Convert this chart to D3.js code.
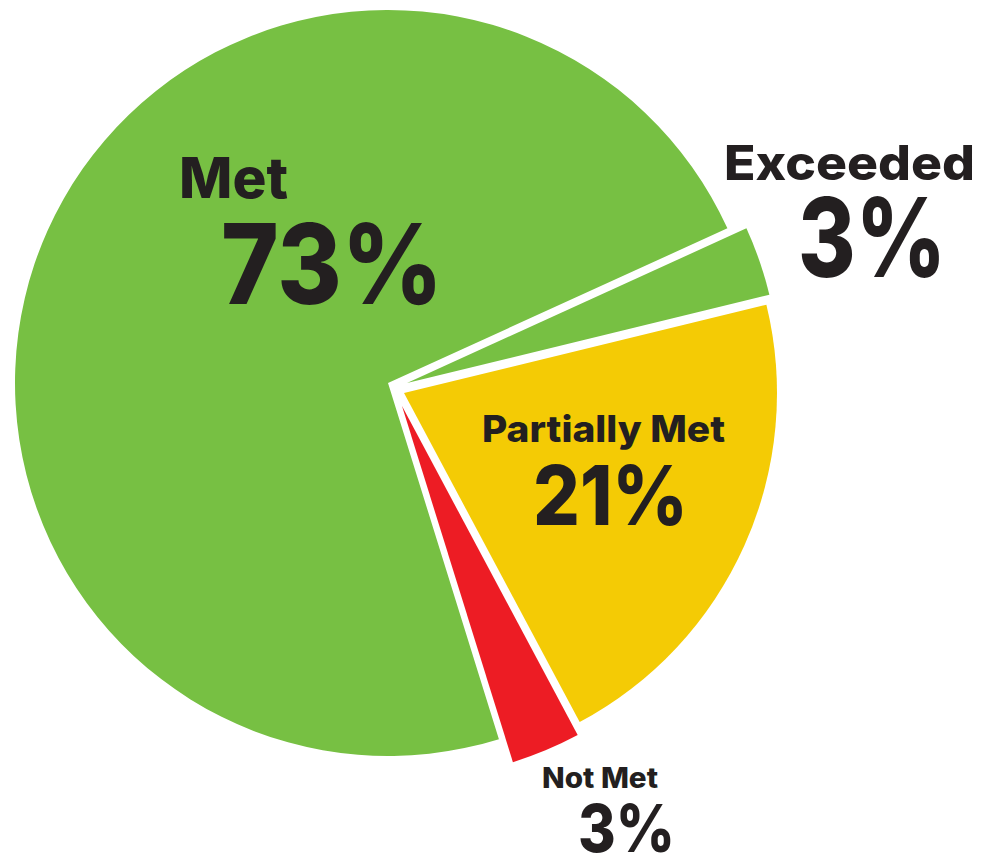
<!DOCTYPE html>
<html>
<head>
<meta charset="utf-8">
<script src="https://cdn.jsdelivr.net/npm/d3@7"></script>
<style>
  html, body { margin: 0; padding: 0; background: #ffffff; }
  svg { display: block; }
</style>
</head>
<body>
<svg id="chart" width="982" height="857"></svg>
<script>
// ---------------- data ----------------
const categories  = ["Exceeded", "Partially Met", "Not Met", "Met"];
const values      = [3, 21, 3, 73];
const valueLabels = ["3%", "21%", "3%", "73%"];

// ---------------- styles / layout ----------------
const sliceColors = ["#77C043", "#F4CB05", "#ED1C24", "#77C043"];
const textColor = "#231F20";
const fontFamily = "Inter, 'Noto Sans', 'DejaVu Sans', sans-serif";
const center = [388, 383];
const radius = 373;
const startDeg = 65.5;
// explode offsets (px) per slice
const explode = {
  "Exceeded":      [19, 0],
  "Partially Met": [16, 10],
  "Not Met":       [14, 23],
  "Met":           [0, 0]
};
// label placement: name (x, baseline, size, width) and value (x, baseline, size, width)
const labelLayout = {
  "Met":           { nx: 179, ny: 198, ns: 56, nw: 109, vx: 221, vy: 304, vs: 111, vw: 222 },
  "Exceeded":      { nx: 724, ny: 180, ns: 48, nw: 251, vx: 798, vy: 277, vs: 110, vw: 148 },
  "Partially Met": { nx: 482, ny: 442, ns: 37, nw: 243, vx: 533, vy: 525, vs: 83,  vw: 155 },
  "Not Met":       { nx: 542, ny: 788, ns: 28, nw: 116, vx: 578, vy: 852, vs: 66,  vw: 97 }
};

const svg = d3.select("#chart");
const color = d3.scaleOrdinal().domain(categories).range(sliceColors);

const rows = categories.map((c, i) => ({ name: c, value: values[i], label: valueLabels[i] }));

const start = startDeg * Math.PI / 180;
const pie = d3.pie().sort(null).value(d => d.value)
  .startAngle(start).endAngle(start + 2 * Math.PI);
const arc = d3.arc().innerRadius(0).outerRadius(radius);

const g = svg.append("g").attr("transform", `translate(${center[0]},${center[1]})`);

g.selectAll("path.slice")
  .data(pie(rows))
  .join("path")
  .attr("class", "slice")
  .attr("d", arc)
  .attr("fill", d => color(d.data.name))
  .attr("transform", d => {
    const o = explode[d.data.name];
    return `translate(${o[0]},${o[1]})`;
  });

// labels
const lab = svg.append("g").attr("fill", textColor)
  .attr("font-family", fontFamily).attr("font-weight", 800);

rows.forEach(r => {
  const L = labelLayout[r.name];
  lab.append("text")
    .attr("x", L.nx).attr("y", L.ny)
    .attr("font-size", L.ns)
    .attr("textLength", L.nw).attr("lengthAdjust", "spacingAndGlyphs")
    .text(r.name);
  lab.append("text")
    .attr("x", L.vx).attr("y", L.vy)
    .attr("font-size", L.vs)
    .attr("textLength", L.vw).attr("lengthAdjust", "spacingAndGlyphs")
    .text(r.label);
});
</script>
</body>
</html>
